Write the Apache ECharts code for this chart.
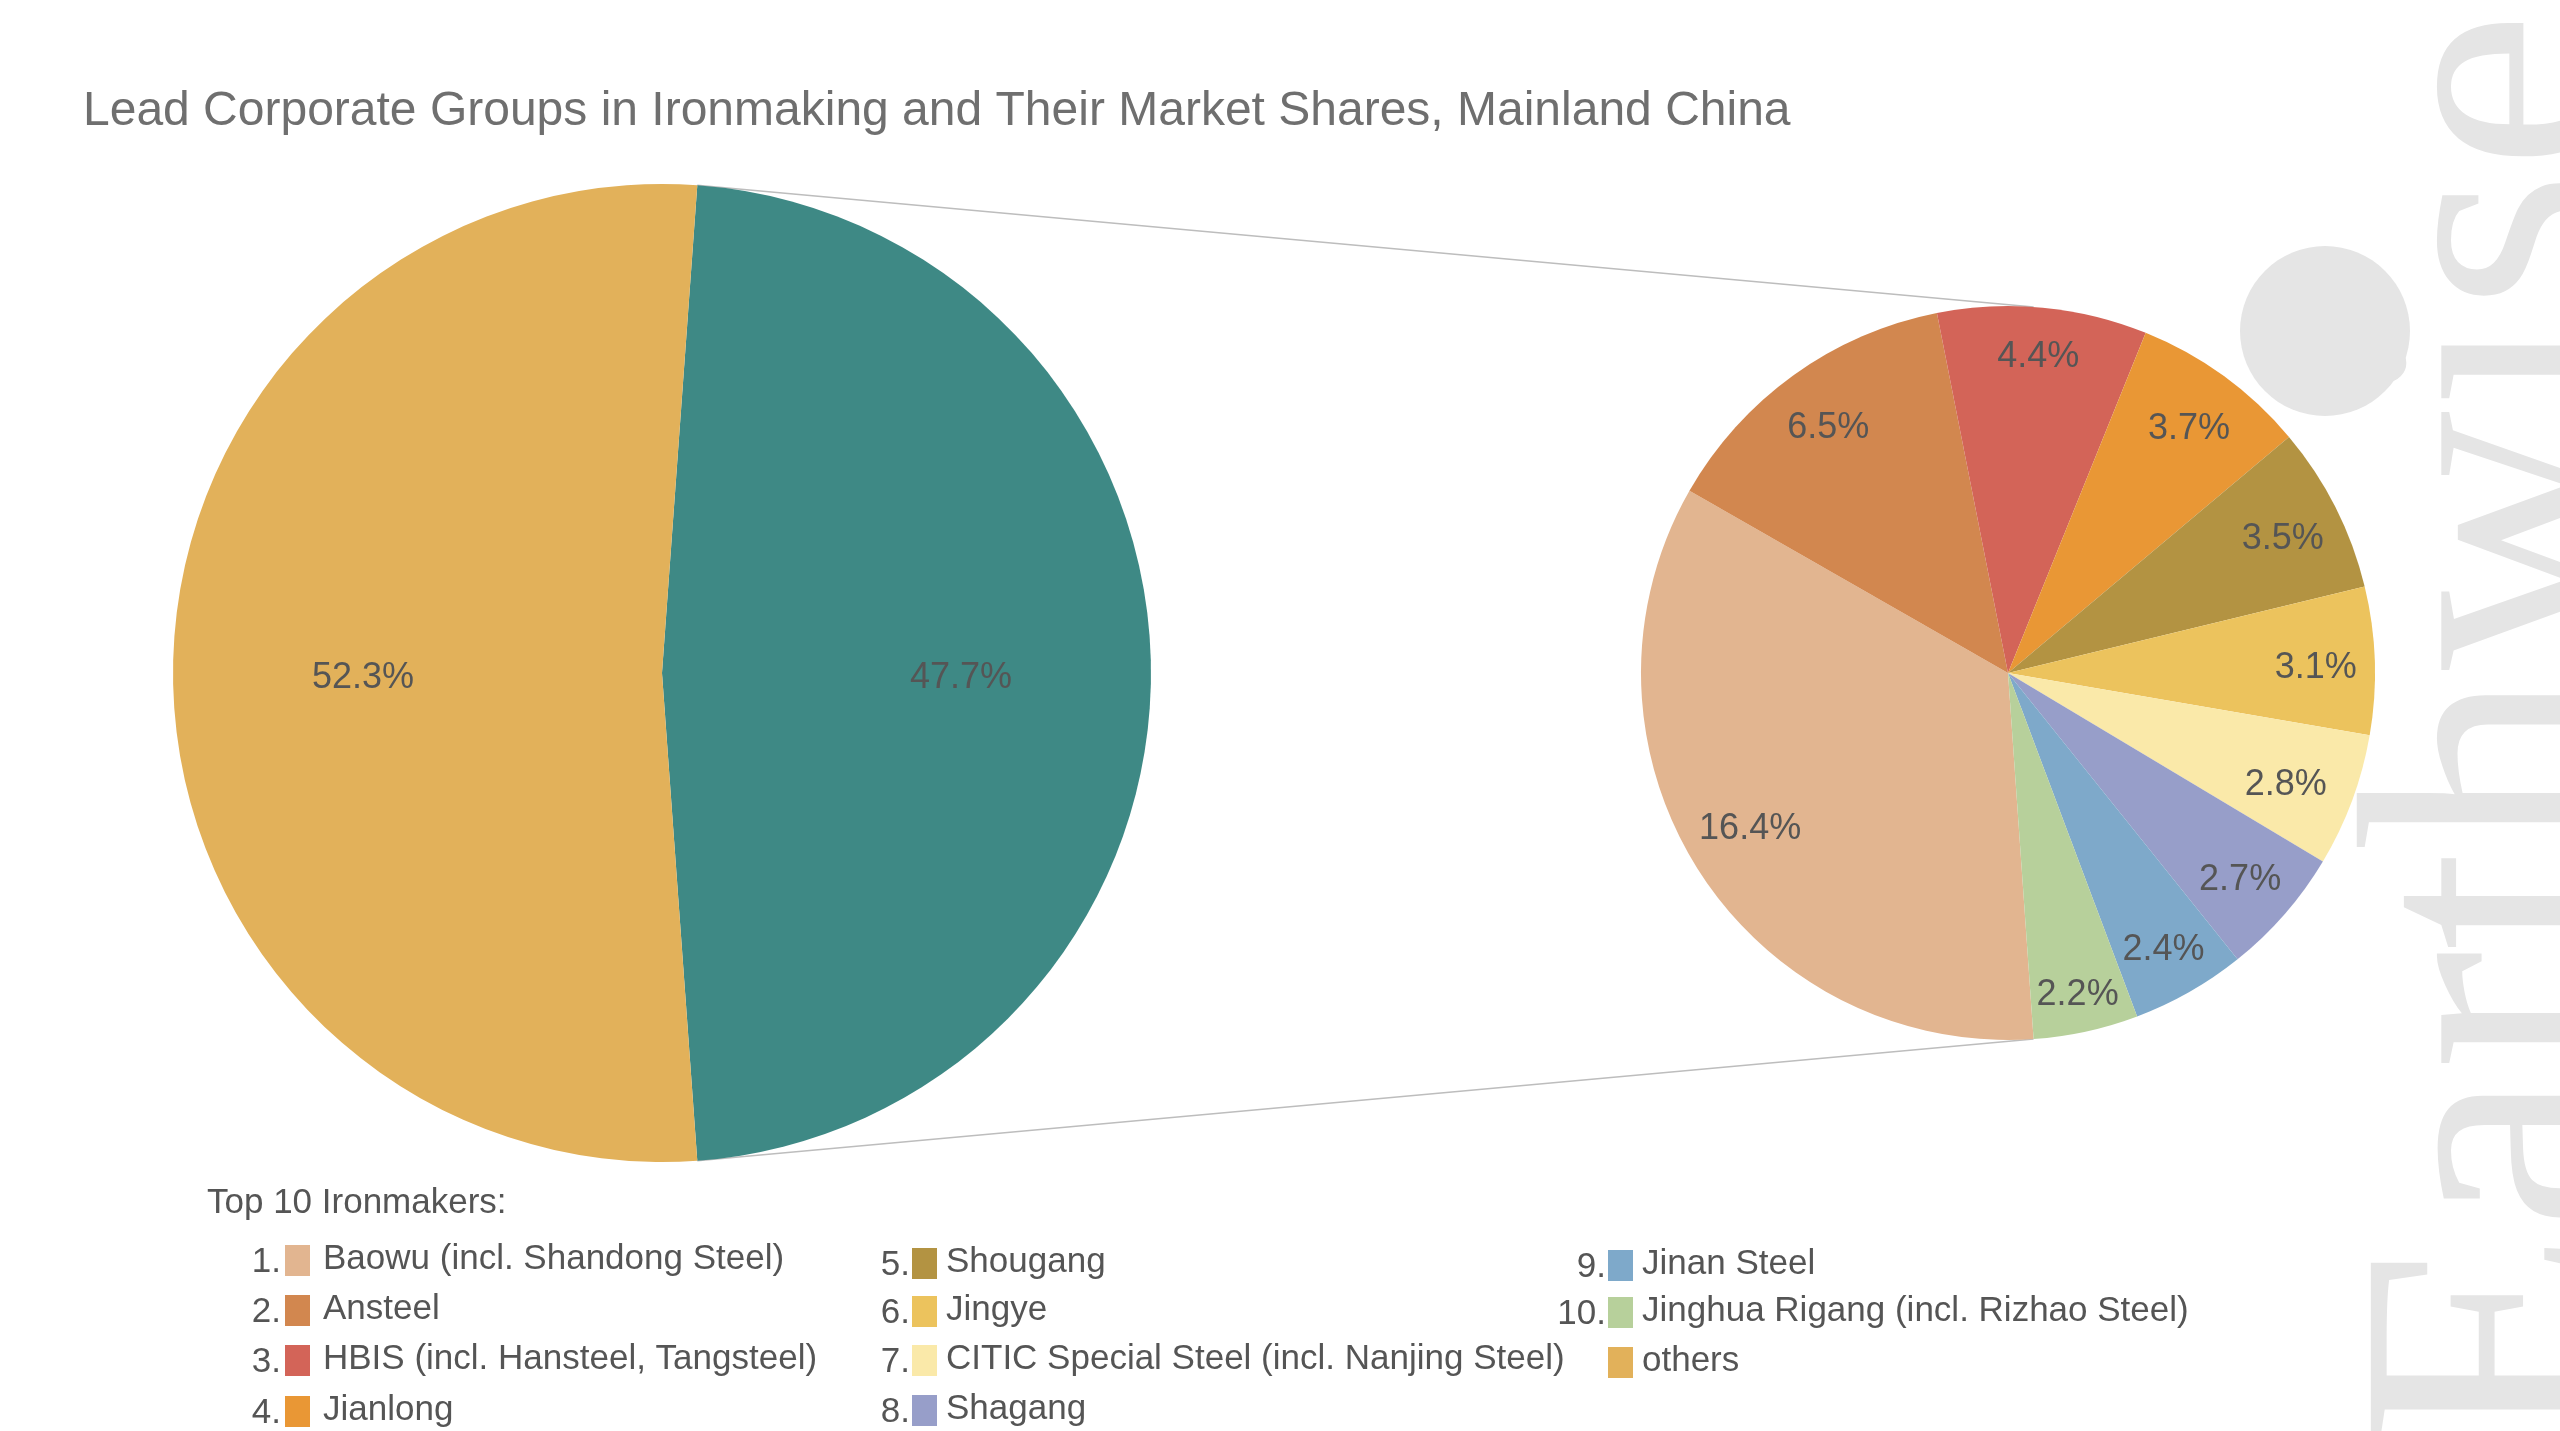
<!DOCTYPE html>
<html>
<head>
<meta charset="utf-8">
<script src="https://cdn.jsdelivr.net/npm/echarts@6/dist/echarts.min.js"></script>
<style>
  html, body { margin: 0; padding: 0; background: #fff; }
  #chart { width: 2560px; height: 1431px; }
</style>
</head>
<body>
<div id="chart"></div>
<script>
// overall split: top 10 vs others (share of total, %)
const splitNames = ['Top 10', 'others']
const splitValues = [47.7, 52.3]
const splitColors = ['#3e8985', '#e2b15a']

// top 10 ironmakers (share of total, %)
const top10Names = [
  'Baowu (incl. Shandong Steel)',
  'Ansteel',
  'HBIS (incl. Hansteel, Tangsteel)',
  'Jianlong',
  'Shougang',
  'Jingye',
  'CITIC Special Steel (incl. Nanjing Steel)',
  'Shagang',
  'Jinan Steel',
  'Jinghua Rigang (incl. Rizhao Steel)'
]
const top10Values = [16.4, 6.5, 4.4, 3.7, 3.5, 3.1, 2.8, 2.7, 2.4, 2.2]
const top10Colors = ['#e2b590', '#d2874f', '#d36458', '#e99735', '#b39342',
  '#ecc35d', '#fae9a9', '#979ec9', '#7ea9ca', '#b7d09b']

const FONT = '"Liberation Sans", Arial, Helvetica, sans-serif'
const TEXT = '#555'

// pie geometry
const left = { cx: 662, cy: 673, r: 489 }
const right = { cx: 2008, cy: 673, r: 367 }
const total = splitValues.reduce((a, b) => a + b, 0)
const leftStart = (splitValues[0] / total) * 180 // teal slice centred on 3 o'clock
const rightStart = 274

const pct = p => p.value.toFixed(1) + '%'
const labelStyle = {
  show: true, position: 'inside', formatter: pct, color: TEXT,
  fontSize: 36, fontFamily: FONT, offset: [0, 5]
}
// best-fit style label nudges on the right pie (by slice index)
const labelNudge = { 0: [3, -8], 2: [1, -9], 6: [-11, 5], 8: [3, 9], 9: [4, 21] }

// connector lines, from the split edges of the left pie to the right pie
const pt = (c, deg) => {
  const a = deg * Math.PI / 180
  return [c.cx + c.r * Math.sin(a), c.cy - c.r * Math.cos(a)]
}
const aL1 = 90 - leftStart
const aL2 = aL1 + (splitValues[0] / total) * 360
const aR = 90 - rightStart + 360
const connectors = [[pt(left, aL1), pt(right, 180 - aR)], [pt(left, aL2), pt(right, aR)]]

// legend layout
const legendCols = [
  { numX: 281, boxX: 285, textX: 323, ys: [1260, 1310, 1360, 1411] },
  { numX: 910, boxX: 912, textX: 946, ys: [1263, 1311, 1360, 1410] },
  { numX: 1606, boxX: 1608, textX: 1642, ys: [1265, 1312, 1362] }
]
const legendItems = top10Names.map((n, i) => ({ num: (i + 1) + '.', name: n, color: top10Colors[i] }))
legendItems.push({ num: '', name: splitNames[1], color: splitColors[1] })

const graphics = []
// watermark
graphics.push({
  type: 'text', x: 2512, y: 1450, rotation: Math.PI / 2, z: -10, silent: true,
  style: { text: 'Earthwise', font: '360px "Liberation Serif", "DejaVu Serif", serif', fill: '#e5e5e5', textAlign: 'left', textVerticalAlign: 'middle' }
})
graphics.push({ type: 'circle', z: -10, silent: true, shape: { cx: 2325, cy: 331, r: 85 }, style: { fill: '#e5e5e5' } })

connectors.forEach(([a, b]) => {
  graphics.push({
    type: 'line', silent: true,
    shape: { x1: a[0], y1: a[1], x2: b[0], y2: b[1] },
    style: { stroke: '#bdbdbd', lineWidth: 1.5 }
  })
})

graphics.push({
  type: 'text', x: 207, y: 1203,
  style: { text: 'Top 10 Ironmakers:', font: '35px ' + FONT, fill: TEXT, textVerticalAlign: 'middle' }
})
let k = 0
legendCols.forEach(col => {
  col.ys.forEach(y => {
    const it = legendItems[k++]
    if (!it) return
    graphics.push({
      type: 'text', x: col.numX, y: y + 2,
      style: { text: it.num, font: '35px ' + FONT, fill: TEXT, textAlign: 'right', textVerticalAlign: 'middle' }
    })
    graphics.push({ type: 'rect', shape: { x: col.boxX, y: y - 15, width: 25, height: 31 }, style: { fill: it.color } })
    graphics.push({
      type: 'text', x: col.textX, y: y - 1,
      style: { text: it.name, font: '35px ' + FONT, fill: TEXT, textVerticalAlign: 'middle' }
    })
  })
})

const chart = echarts.init(document.getElementById('chart'))
chart.setOption({
  animation: false,
  backgroundColor: '#fff',
  title: {
    text: 'Lead Corporate Groups in Ironmaking and Their Market Shares, Mainland China',
    left: 78, top: 83,
    textStyle: { fontFamily: FONT, fontSize: 48, fontWeight: 'normal', color: '#6f6f6f' }
  },
  series: [
    {
      type: 'pie', center: [left.cx, left.cy], radius: [0, left.r], startAngle: leftStart,
      clockwise: true, silent: true, label: { show: false }, labelLine: { show: false },
      data: splitValues.map((v, i) => ({ name: splitNames[i], value: v, itemStyle: { color: splitColors[i] } }))
    },
    {
      type: 'pie', center: [left.cx, left.cy], radius: [200, 392], startAngle: leftStart,
      clockwise: true, silent: true, itemStyle: { color: 'transparent' }, label: labelStyle, labelLine: { show: false },
      data: splitValues.map((v, i) => ({ name: splitNames[i], value: v }))
    },
    {
      type: 'pie', center: [right.cx, right.cy], radius: [0, right.r], startAngle: rightStart,
      clockwise: true, silent: true, label: { show: false }, labelLine: { show: false },
      data: top10Values.map((v, i) => ({ name: top10Names[i], value: v, itemStyle: { color: top10Colors[i] } }))
    },
    {
      type: 'pie', center: [right.cx, right.cy], radius: [245, 365], startAngle: rightStart,
      clockwise: true, silent: true, itemStyle: { color: 'transparent' }, label: labelStyle, labelLine: { show: false },
      data: top10Values.map((v, i) => labelNudge[i]
        ? { name: top10Names[i], value: v, label: { offset: labelNudge[i] } }
        : { name: top10Names[i], value: v })
    }
  ],
  graphic: graphics
})
window.addEventListener('resize', () => chart.resize())
</script>
</body>
</html>
